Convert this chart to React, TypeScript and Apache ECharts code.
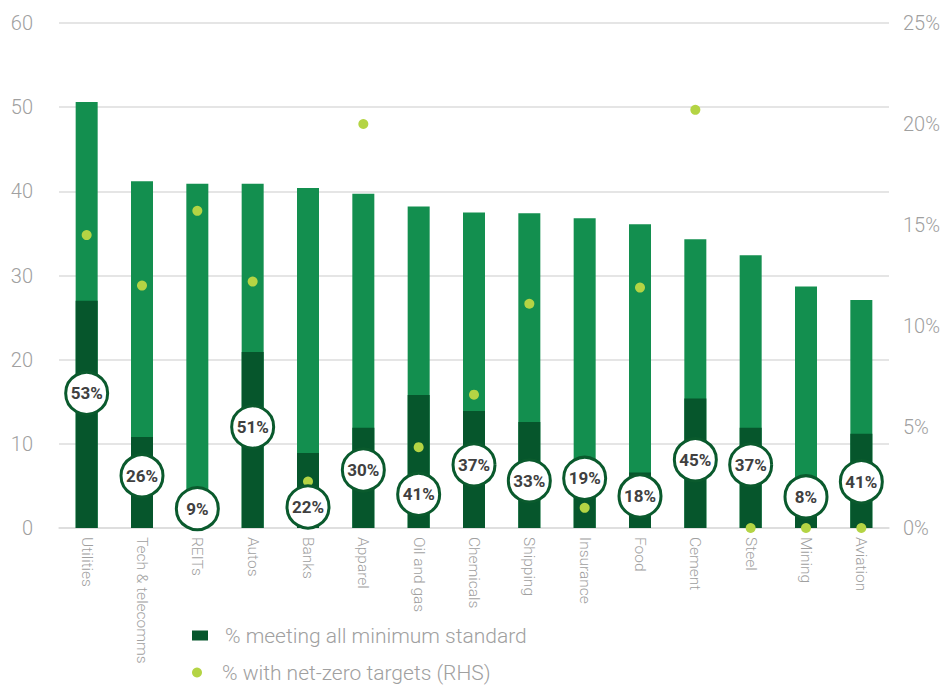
import React, { useEffect, useRef } from "react";
import * as echarts from "echarts";

const categories = [
  "Utilities", "Tech & telecomms", "REITs", "Autos", "Banks", "Apparel", "Oil and gas",
  "Chemicals", "Shipping", "Insurance", "Food", "Cement", "Steel", "Mining", "Aviation",
];
// total companies assessed per sector (left axis)
const totalCompanies = [50.6, 41.2, 40.9, 40.9, 40.4, 39.7, 38.2, 37.5, 37.4, 36.8, 36.1, 34.3, 32.4, 28.7, 27.1];
// companies meeting all minimum standards (left axis)
const meetingCount = [27.0, 10.8, 3.7, 20.9, 8.9, 11.9, 15.8, 13.9, 12.6, 7.0, 6.6, 15.4, 11.9, 2.3, 11.2];
// share meeting all minimum standards (%), shown in circles
const shareLabels = [53, 26, 9, 51, 22, 30, 41, 37, 33, 19, 18, 45, 37, 8, 41];
// vertical anchor of each circle label (left-axis units)
const shareLabelAnchor = [16.0, 6.2, 2.3, 12.0, 2.5, 6.9, 4.0, 7.5, 5.6, 5.9, 3.8, 8.1, 7.5, 3.7, 5.5];
// % with net-zero targets (right axis)
const netZeroPct = [14.5, 12.0, 15.7, 12.2, 2.3, 20.0, 4.0, 6.6, 11.1, 1.0, 11.9, 20.7, 0, 0, 0];

const leftTicks = { min: 0, max: 60, interval: 10 };
const rightTicks = { min: 0, max: 25, interval: 5 };

const MEET = "% meeting all minimum standard";
const NZ = "% with net-zero targets (RHS)";

export default function App() {
  const ref = useRef<HTMLDivElement>(null);
  useEffect(() => {
    document.body.style.margin = "0";
    const chart = echarts.init(ref.current!, null, { renderer: "svg" });
    const font = "Roboto, 'Noto Sans', sans-serif";
    const legendText = { color: "#a0a0a0", fontSize: 21, fontWeight: 300, fontFamily: font, padding: [0, 0, 0, 12] };
    chart.setOption({
      animation: false,
      backgroundColor: "#ffffff",
      textStyle: { fontFamily: font },
      grid: { left: 59, right: 55, top: 23, bottom: 158, containLabel: false },
      legend: [
        {
          left: 192,
          top: 625,
          padding: 0,
          itemWidth: 16,
          itemHeight: 10,
          data: [{ name: MEET, icon: "rect" }],
          textStyle: legendText,
          selectedMode: false,
        },
        {
          left: 192,
          top: 662,
          padding: 0,
          itemWidth: 16,
          itemHeight: 10,
          data: [{ name: NZ, icon: "circle" }],
          textStyle: legendText,
          selectedMode: false,
        },
      ],
      xAxis: {
        type: "category",
        data: categories,
        axisTick: { show: false },
        axisLine: { show: true, lineStyle: { color: "#dcdcdc", width: 1.5 } },
        axisLabel: {
          interval: 0,
          rotate: -90,
          color: "#a0a0a0",
          fontSize: 15.5,
          fontWeight: 300,
          fontFamily: font,
          margin: 9,
        },
      },
      yAxis: [
        {
          type: "value",
          ...leftTicks,
          position: "left",
          axisLine: { show: false },
          axisTick: { show: false },
          splitLine: { lineStyle: { color: "#dcdcdc", width: 1.5 } },
          axisLabel: { color: "#a0a0a0", fontSize: 20, fontWeight: 300, fontFamily: font, margin: 26 },
        },
        {
          type: "value",
          ...rightTicks,
          position: "right",
          axisLine: { show: false },
          axisTick: { show: false },
          splitLine: { show: false },
          axisLabel: { color: "#a0a0a0", fontSize: 20, fontWeight: 300, fontFamily: font, margin: 14, formatter: "{value}%" },
        },
      ],
      series: [
        {
          name: "Total",
          type: "bar",
          data: totalCompanies,
          barWidth: 22,
          barGap: "-100%",
          itemStyle: { color: "#138f4f" },
          z: 1,
        },
        {
          name: MEET,
          type: "bar",
          data: meetingCount,
          barWidth: 22,
          barGap: "-100%",
          itemStyle: { color: "#06562c" },
          z: 2,
        },
        {
          name: NZ,
          type: "scatter",
          yAxisIndex: 1,
          data: netZeroPct,
          symbolSize: 10,
          itemStyle: { color: "#b4d444", opacity: 1 },
          clip: false,
          z: 3,
        },
        {
          name: "share",
          type: "scatter",
          yAxisIndex: 0,
          data: shareLabelAnchor,
          symbolSize: 42,
          itemStyle: { color: "#ffffff", borderColor: "#0a5a2d", borderWidth: 3, opacity: 1 },
          label: {
            show: true,
            position: "inside",
            formatter: (p: any) => shareLabels[p.dataIndex] + "%",
            color: "#404040",
            fontSize: 17,
            fontWeight: "bold",
            fontFamily: font,
          },
          clip: false,
          z: 4,
        },
      ],
    });
    return () => chart.dispose();
  }, []);
  return <div ref={ref} style={{ position: "fixed", left: 0, top: 0, width: 944, height: 686 }} />;
}
